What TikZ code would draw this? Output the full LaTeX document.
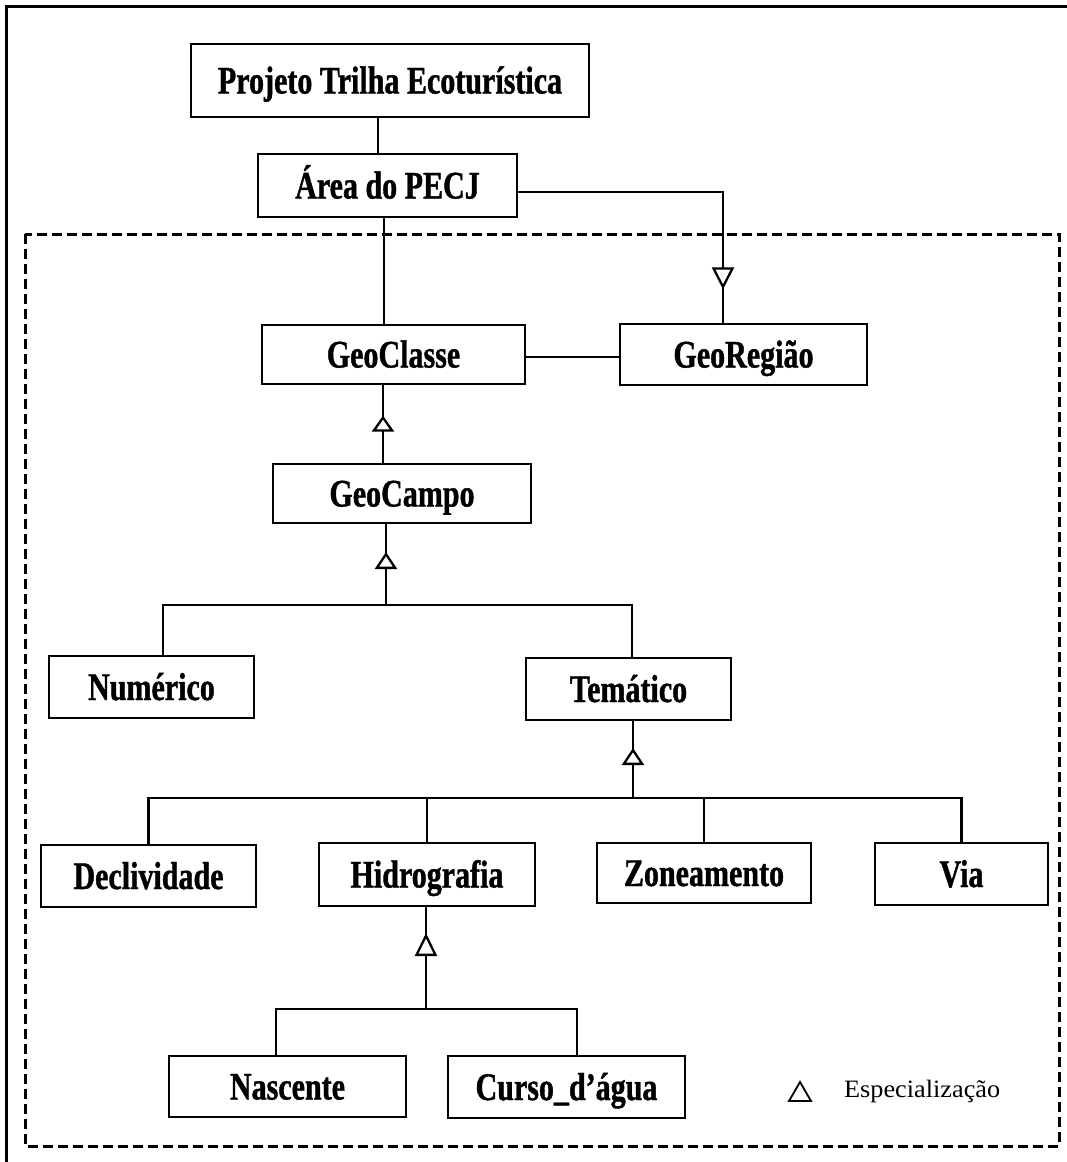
\documentclass[tikz,border=0pt]{standalone}
\usepackage{fontspec}
\setmainfont{Liberation Serif}
\newfontfamily\lblfamily{Liberation Serif}[FakeStretch=0.77, FakeBold=1]
\newfontfamily\legfamily{Liberation Serif}[FakeStretch=1.05]
\usetikzlibrary{arrows.meta,decorations.markings}
\tikzset{
  box/.style={draw, line width=2.8pt, inner sep=0pt, text height=26pt, text depth=0pt,
    font=\lblfamily\bfseries\fontsize{39pt}{41pt}\selectfont},
  conn/.style={line width=2.3pt},
  thinconn/.style={line width=1.6pt},
  spec/.style n args={3}{postaction={decorate}, decoration={markings,
    mark=at position #1 with {\arrow{Triangle[fill=white, length=#2, width=#3]}}}},
  frame/.style={line width=3pt},
  dframe/.style={line width=3pt, dash pattern=on 10pt off 5pt}
}
\begin{document}
\begin{tikzpicture}[x=1pt,y=-1pt]
\useasboundingbox (0,0) rectangle (1067,1162);
% outer frame (only left and top visible)
\draw[frame] (6,1170) -- (6,6) -- (1075,6);
% dashed package frame
\draw[dframe] (25,234) rectangle (1059,1146);

% boxes
\node[box, minimum width=398pt, minimum height=73pt] (proj) at (390,80.5) {Projeto Trilha Ecoturística};
\node[box, minimum width=259pt, minimum height=63pt] (area) at (387.5,185.5) {Área do PECJ};
\node[box, minimum width=263pt, minimum height=59pt] (gc) at (393.5,354.5) {GeoClasse};
\node[box, minimum width=247pt, minimum height=61pt] (gr) at (743.5,354.5) {GeoRegião};
\node[box, minimum width=258pt, minimum height=59pt] (gcampo) at (402,493.5) {GeoCampo};
\node[box, minimum width=205pt, minimum height=62pt] (num) at (151.5,687) {Numérico};
\node[box, minimum width=205pt, minimum height=62pt] (tem) at (628.5,689) {Temático};
\node[box, minimum width=215pt, minimum height=62pt] (decl) at (148.5,876) {Declividade};
\node[box, minimum width=216pt, minimum height=63pt] (hid) at (427,874.5) {Hidrografia};
\node[box, minimum width=214pt, minimum height=60pt] (zon) at (704,873) {Zoneamento};
\node[box, minimum width=173pt, minimum height=62pt] (via) at (961.5,874) {Via};
\node[box, minimum width=237pt, minimum height=61pt] (nasc) at (287.5,1086.5) {Nascente};
\node[box, minimum width=237pt, minimum height=62pt] (curso) at (566.5,1087) {Curso\_d’água};

% connectors
\draw[conn] ([xshift=-12pt]proj.south) -- ([xshift=-12pt]proj.south |- area.north);
\draw[conn] ([xshift=-3.5pt]area.south) -- ([xshift=-3.5pt]area.south |- gc.north);
\draw[conn, spec={302pt}{22pt}{22pt}] ([yshift=-6.5pt]area.east) -| ([xshift=-20.5pt]gr.north);
\draw[conn] ([yshift=-2.5pt]gc.east) -- ([yshift=-2.5pt]gc.east -| gr.west);
\draw[conn, spec={47pt}{16pt}{22pt}] ([xshift=-19pt]gcampo.north) -- ([xshift=-19pt]gcampo.north |- gc.south);

\coordinate (b1) at (386,605);
\draw[conn] ([xshift=11.5pt]num.north) |- (b1) -| ([xshift=3.5pt]tem.north);
\draw[conn, spec={53pt}{17pt}{22pt}] (b1) -- (b1 |- gcampo.south);

\coordinate (b2) at (633,798);
\draw[conn] (decl.north) |- (b2) -| (via.north);
\draw[thinconn] (hid.north) -- (hid.north |- b2);
\draw[thinconn] (zon.north) -- (zon.north |- b2);
\draw[conn, spec={50pt}{17pt}{22pt}] (b2) -- (b2 |- tem.south);

\coordinate (b3) at (426,1009);
\draw[conn] ([xshift=-11.5pt]nasc.north) |- (b3) -| ([xshift=10.5pt]curso.north);
\draw[conn, spec={76pt}{23pt}{22pt}] (b3) -- (b3 |- hid.south);

% legend
\draw[line width=1.8pt, line join=miter] (789,1101) -- (800,1082) -- (811,1101) -- cycle;
\node[anchor=base west, inner sep=0pt, font=\legfamily\fontsize{25pt}{27pt}\selectfont] (leg) at (844,1097) {Especialização};
\end{tikzpicture}
\end{document}
